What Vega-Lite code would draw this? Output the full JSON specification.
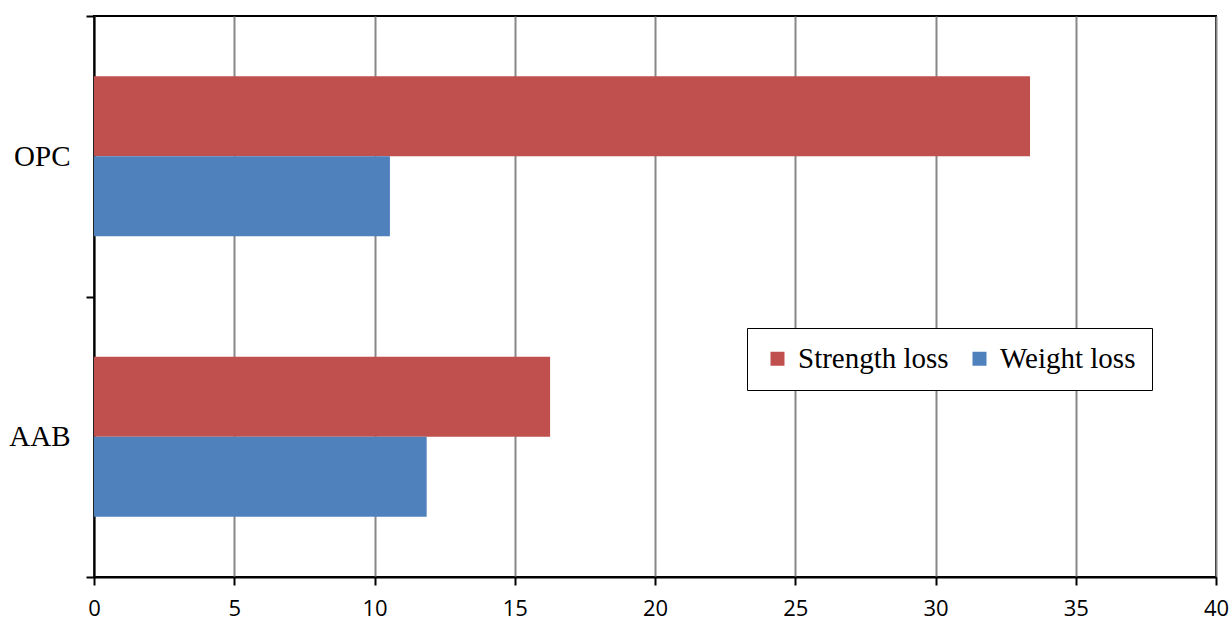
{
  "$schema": "https://vega.github.io/schema/vega-lite/v6.json",
  "width": 1122,
  "height": 561,
  "autosize": {"type": "none"},
  "padding": {"left": 94, "top": 16, "right": 16, "bottom": 45},
  "background": "white",
  "config": {
    "view": {"stroke": "black", "strokeWidth": 2}
  },
  "data": {
    "values": [
      {"material": "OPC", "series": "Strength loss", "value": 33.37},
      {"material": "OPC", "series": "Weight loss", "value": 10.55},
      {"material": "AAB", "series": "Strength loss", "value": 16.26},
      {"material": "AAB", "series": "Weight loss", "value": 11.86}
    ]
  },
  "mark": {"type": "bar"},
  "encoding": {
    "x": {
      "field": "value",
      "type": "quantitative",
      "scale": {"domain": [0, 40], "nice": false, "zero": true},
      "axis": {
        "title": null,
        "values": [0, 5, 10, 15, 20, 25, 30, 35, 40],
        "grid": true,
        "gridColor": "#878787",
        "gridWidth": 2,
        "domainColor": "black",
        "domainWidth": 2,
        "tickColor": "black",
        "tickWidth": 2,
        "tickSize": 8,
        "labelFlush": false,
        "labelFont": "Open Sans",
        "labelFontSize": 22,
        "labelColor": "black",
        "labelPadding": 13
      }
    },
    "y": {
      "field": "material",
      "type": "nominal",
      "sort": ["OPC", "AAB"],
      "scale": {"paddingInner": 0, "paddingOuter": 0},
      "axis": {
        "title": null,
        "tickBand": "extent",
        "grid": false,
        "domainColor": "black",
        "domainWidth": 2,
        "tickColor": "black",
        "tickWidth": 2,
        "tickSize": 8,
        "labelFont": "Liberation Serif",
        "labelFontSize": 29,
        "labelColor": "black",
        "labelPadding": 16
      }
    },
    "yOffset": {
      "field": "series",
      "type": "nominal",
      "sort": ["Strength loss", "Weight loss"],
      "scale": {"paddingInner": 0, "paddingOuter": 0.753}
    },
    "color": {
      "field": "series",
      "type": "nominal",
      "sort": ["Strength loss", "Weight loss"],
      "scale": {"domain": ["Strength loss", "Weight loss"], "range": ["#C0504D", "#4F81BD"]},
      "legend": {
        "title": null,
        "orient": "none",
        "legendX": 653,
        "legendY": 312,
        "direction": "horizontal",
        "strokeColor": "black",
        "fillColor": "white",
        "padding": 16,
        "symbolType": "square",
        "symbolSize": 196,
        "symbolStrokeWidth": 0,
        "labelFont": "Liberation Serif",
        "labelFontSize": 29,
        "labelColor": "black",
        "labelOffset": 6,
        "columnPadding": 16,
        "labelLimit": 400
      }
    }
  }
}
